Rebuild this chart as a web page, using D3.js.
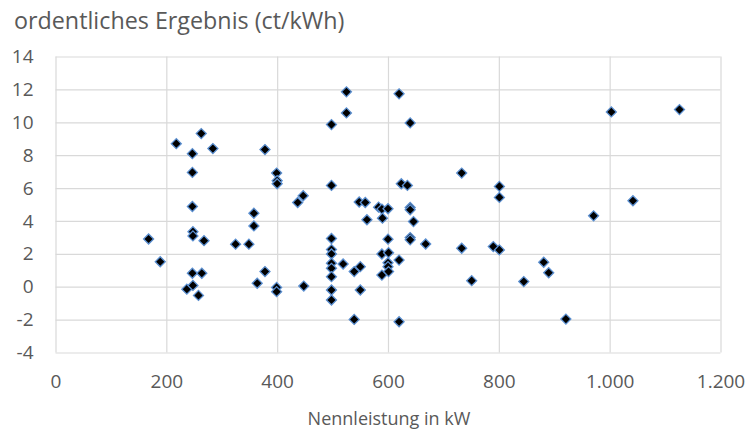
<!DOCTYPE html>
<html>
<head>
<meta charset="utf-8">
<script src="https://cdn.jsdelivr.net/npm/d3@7"></script>
<style>
  body { margin: 0; background: #fff; }
  svg { display: block; font-family: "Open Sans", sans-serif; }
</style>
</head>
<body>
<svg id="chart" width="748" height="432"></svg>
<script>
// Nennleistung (kW) per plant
var nennleistung = [
  168, 189, 218, 237, 248, 258, 247, 264, 248, 248, 268, 247, 247, 247, 263, 284,
  325, 349, 358, 358, 364, 378, 378, 399, 400, 400, 399, 399, 437, 447, 448,
  498, 498, 498, 498, 498, 498, 498, 498, 498, 498, 519, 525, 525,
  539, 539, 548, 550, 550, 559, 562, 583, 589, 590, 600, 589, 601, 600, 600, 600,
  589, 601, 620, 620, 620, 624, 635, 640, 640, 640, 646, 640, 640, 668,
  733, 733, 751, 790, 801, 801, 801, 845, 881, 890, 921, 971, 1003, 1042, 1126
];

// ordentliches Ergebnis (ct/kWh), same order
var ergebnis = [
  2.9, 1.52, 8.7, -0.15, 0.08, -0.53, 0.82, 0.82, 3.35, 3.09, 2.8, 4.88, 6.95, 8.09, 9.31, 8.4,
  2.59, 2.59, 3.7, 4.47, 0.21, 0.92, 8.34, 6.91, 6.45, 6.26, -0.04, -0.3, 5.12, 5.53, 0.04,
  9.86, 6.16, 2.93, 2.26, 1.99, 1.43, 1.12, 0.61, -0.2, -0.81, 1.38, 10.57, 11.85,
  0.92, -1.99, 5.15, 1.22, -0.2, 5.12, 4.07, 4.84, 4.72, 4.17, 4.74, 1.99, 2.07, 2.89, 1.46, 1.22,
  0.71, 0.92, 1.62, -2.13, 11.73, 6.26, 6.16, 9.96, 4.82, 4.68, 3.96, 2.99, 2.85, 2.6,
  6.91, 2.34, 0.37, 2.44, 2.24, 6.1, 5.43, 0.31, 1.49, 0.85, -1.97, 4.31, 10.63, 5.23, 10.77
];

// axis ticks and labels
var xTicks = [0, 200, 400, 600, 800, 1000, 1200];
var xTickLabels = ['0', '200', '400', '600', '800', '1.000', '1.200'];
var yTicks = [-4, -2, 0, 2, 4, 6, 8, 10, 12, 14];
var yTickLabels = ['-4', '-2', '0', '2', '4', '6', '8', '10', '12', '14'];

var chartTitle = 'ordentliches Ergebnis (ct/kWh)';
var xTitle = 'Nennleistung in kW';

(function () {
    var svg = d3.select('#chart'),
        left = 55.5, right = 720.5, top = 56.5, bottom = 352.5,
        textColor = '#595959',
        gridColor = '#d9d9d9';

    var points = nennleistung.map(function (d, i) {
        return { x: d, y: ergebnis[i] };
    });

    var x = d3.scaleLinear().domain([0, 1200]).range([left, right]),
        y = d3.scaleLinear().domain([-4, 14]).range([bottom, top]);

    // gridlines
    svg.append('g')
        .attr('transform', 'translate(0,' + bottom + ')')
        .call(d3.axisBottom(x).tickValues(xTicks).tickSize(-(bottom - top)).tickFormat(''))
        .call(function (g) {
            g.select('.domain').remove();
            g.selectAll('line').attr('stroke', gridColor).attr('stroke-width', 1.2);
        });

    svg.append('g')
        .attr('transform', 'translate(' + left + ',0)')
        .call(d3.axisLeft(y).tickValues(yTicks).tickSize(-(right - left)).tickFormat(''))
        .call(function (g) {
            g.select('.domain').remove();
            g.selectAll('line').attr('stroke', gridColor).attr('stroke-width', 1.2);
        });

    // tick labels
    svg.append('g')
        .attr('transform', 'translate(0,' + bottom + ')')
        .call(d3.axisBottom(x).tickValues(xTicks).tickSize(0).tickPadding(22)
            .tickFormat(function (d, i) { return xTickLabels[i]; }))
        .call(function (g) {
            g.select('.domain').remove();
            g.selectAll('text')
                .attr('fill', textColor)
                .style('font-size', '19px')
                .style('font-family', '"Open Sans", sans-serif');
        });

    svg.append('g')
        .attr('transform', 'translate(' + left + ',0)')
        .call(d3.axisLeft(y).tickValues(yTicks).tickSize(0).tickPadding(22)
            .tickFormat(function (d, i) { return yTickLabels[i]; }))
        .call(function (g) {
            g.select('.domain').remove();
            g.selectAll('text')
                .attr('fill', textColor)
                .style('font-size', '19px')
                .style('font-family', '"Open Sans", sans-serif');
        });

    // markers: black diamonds with a blue rim
    var diamond = d3.symbol().type(d3.symbolSquare).size(50);
    svg.append('g')
        .selectAll('path')
        .data(points)
        .enter()
        .append('path')
        .attr('d', diamond)
        .attr('transform', function (d) {
            return 'translate(' + x(d.x) + ',' + y(d.y) + ') rotate(45)';
        })
        .attr('fill', '#000')
        .attr('stroke', '#5b8fd0')
        .attr('stroke-width', 1.3);

    // titles
    svg.append('text')
        .attr('x', 14)
        .attr('y', 29)
        .attr('fill', textColor)
        .style('font-size', '23.3px')
        .text(chartTitle);

    svg.append('text')
        .attr('x', (left + right) / 2 + 1)
        .attr('y', 425)
        .attr('text-anchor', 'middle')
        .attr('fill', textColor)
        .style('font-size', '18px')
        .text(xTitle);
}());
</script>
</body>
</html>
